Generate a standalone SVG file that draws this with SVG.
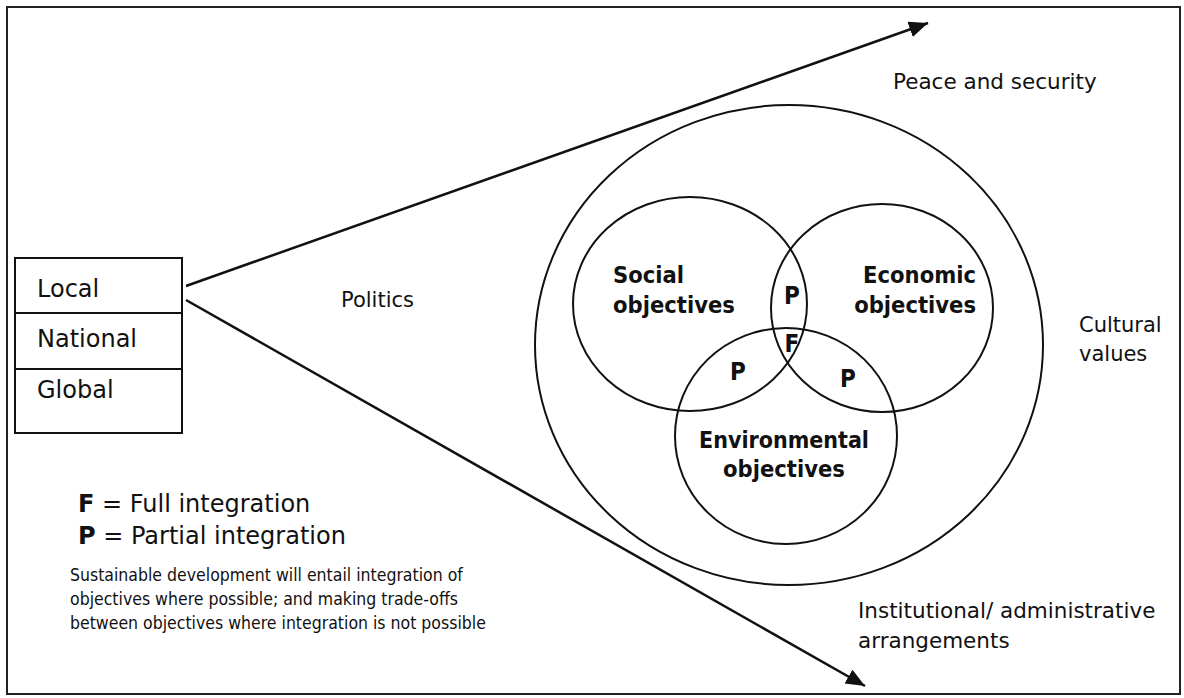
<svg xmlns="http://www.w3.org/2000/svg" width="1184" height="698" viewBox="0 0 1184 698">
<defs>
<style>
.t{font-family:"DejaVu Sans","Liberation Sans",sans-serif;fill:#111}
.n{font-family:"DejaVu Sans Condensed","DejaVu Sans",sans-serif;fill:#111}
.b{font-family:"DejaVu Sans Condensed","DejaVu Sans",sans-serif;font-weight:bold;fill:#111}
.c{fill:none;stroke:#111;stroke-width:2}
.ln{fill:none;stroke:#111;stroke-width:2.5}
</style>
<marker id="ah" markerUnits="userSpaceOnUse" markerWidth="22" markerHeight="18" refX="19" refY="8" orient="auto">
<path d="M0,0 L19,8 L0,16 Z" fill="#111"/>
</marker>
</defs>
<rect x="0" y="0" width="1184" height="698" fill="#fff"/>
<rect id="frame" x="7" y="7" width="1173" height="687" fill="none" stroke="#222" stroke-width="2"/>

<g id="connectors">
<line class="ln" x1="186" y1="286" x2="928" y2="23" marker-end="url(#ah)"/>
<line class="ln" x1="186" y1="300" x2="865" y2="686" marker-end="url(#ah)"/>
</g>

<g id="levels">
<rect x="15" y="258" width="167" height="175" fill="#fff" stroke="#111" stroke-width="2"/>
<line x1="15" y1="313" x2="182" y2="313" stroke="#111" stroke-width="2"/>
<line x1="15" y1="369" x2="182" y2="369" stroke="#111" stroke-width="2"/>
<text class="t" x="37" y="297" font-size="24">Local</text>
<text class="t" x="37" y="347" font-size="24">National</text>
<text class="t" x="37" y="398" font-size="24">Global</text>
</g>

<g id="context">
<ellipse class="c" cx="789" cy="345" rx="254" ry="240"/>
</g>
<g id="social">
<ellipse class="c" cx="690" cy="304" rx="117" ry="107"/>
<text class="b" font-size="23.5" x="613" y="283">Social</text>
<text class="b" font-size="23.5" x="613" y="313">objectives</text>
</g>
<g id="economic">
<ellipse class="c" cx="882" cy="308" rx="111" ry="104"/>
<text class="b" font-size="23.5" x="976" y="283" text-anchor="end">Economic</text>
<text class="b" font-size="23.5" x="976" y="313" text-anchor="end">objectives</text>
</g>
<g id="environmental">
<ellipse class="c" cx="786" cy="436" rx="111" ry="108"/>
<text class="b" font-size="23" x="784" y="448" text-anchor="middle">Environmental</text>
<text class="b" font-size="23.5" x="784" y="477" text-anchor="middle">objectives</text>
</g>
<g id="intersections">
<text class="b" font-size="24" x="792" y="304" text-anchor="middle">P</text>
<text class="b" font-size="24" x="792" y="352" text-anchor="middle">F</text>
<text class="b" font-size="24" x="738" y="380" text-anchor="middle">P</text>
<text class="b" font-size="24" x="848" y="387" text-anchor="middle">P</text>
</g>

<g id="labels">
<text class="t" font-size="21.5" x="893" y="89">Peace and security</text>
<text class="t" font-size="21" x="341" y="307">Politics</text>
<text class="t" font-size="21" x="1079" y="332">Cultural</text>
<text class="t" font-size="21" x="1079" y="361">values</text>
<text class="t" font-size="21.5" x="858" y="618">Institutional/ administrative</text>
<text class="t" font-size="21.5" x="858" y="648">arrangements</text>
</g>

<g id="legend">
<text class="t" font-size="24" x="78" y="512"><tspan font-weight="bold">F</tspan> = Full integration</text>
<text class="t" font-size="24" x="78" y="544"><tspan font-weight="bold">P</tspan> = Partial integration</text>
<text class="n" font-size="17.5" x="70" y="581">Sustainable development will entail integration of</text>
<text class="n" font-size="17.5" x="70" y="605">objectives where possible; and making trade-offs</text>
<text class="n" font-size="17.5" x="70" y="629">between objectives where integration is not possible</text>
</g>
</svg>
